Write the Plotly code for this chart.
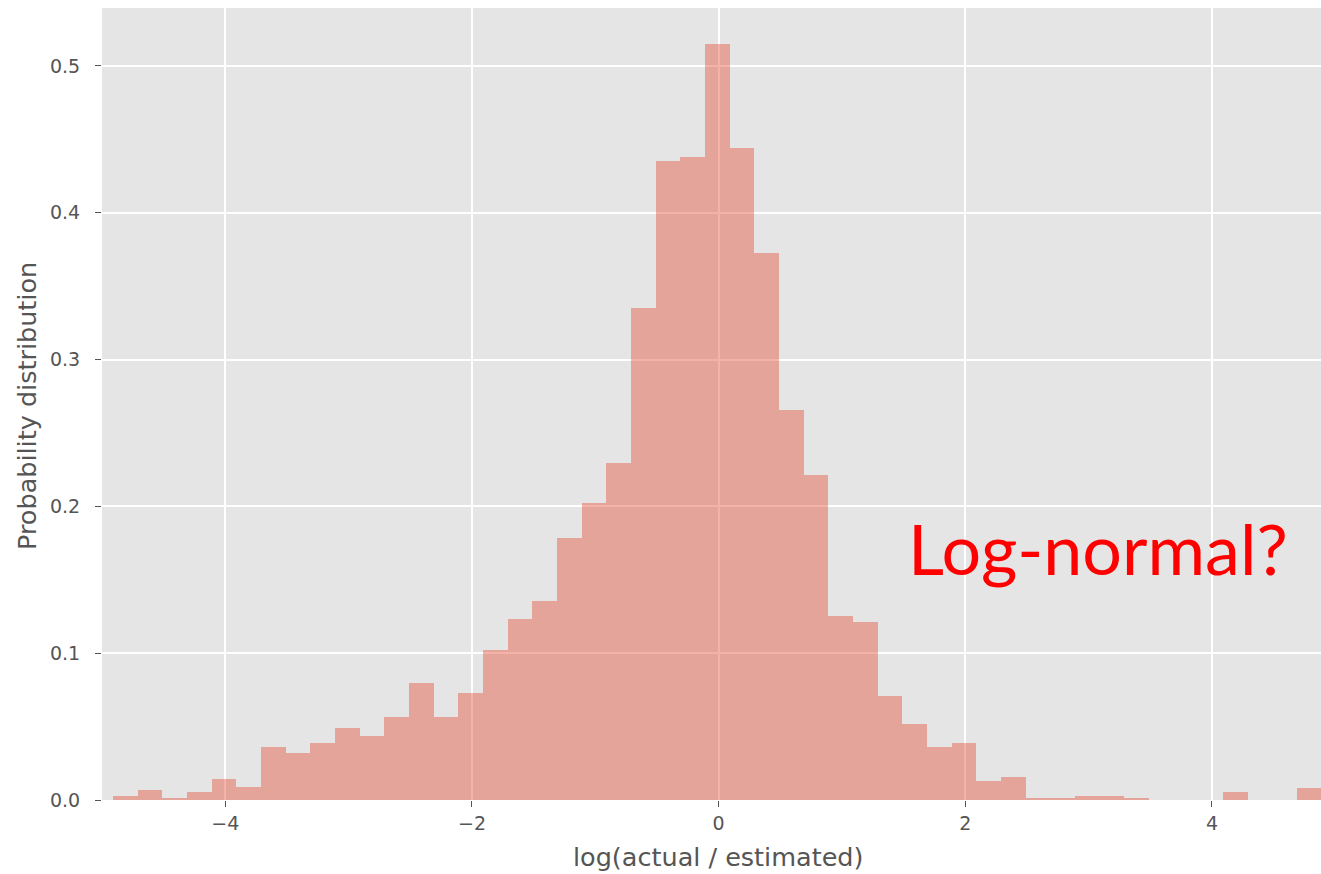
import numpy as np
import plotly.graph_objects as go

# Histogram of log(actual / estimated): bin layout and normalised heights
bin_start = -4.91
bin_width = 0.2
density = [
    0.0029, 0.0070, 0.0014, 0.0057, 0.0145, 0.0086, 0.0361, 0.0317, 0.0390, 0.0490,
    0.0433, 0.0565, 0.0797, 0.0565, 0.0726, 0.1020, 0.1236, 0.1353, 0.1787, 0.2020,
    0.2295, 0.3353, 0.4351, 0.4382, 0.5149, 0.4440, 0.3729, 0.2660, 0.2211, 0.1256,
    0.1211, 0.0711, 0.0520, 0.0363, 0.0388, 0.0127, 0.0154, 0.0011, 0.0011, 0.0027,
    0.0027, 0.0011, 0.0, 0.0, 0.0, 0.0054, 0.0, 0.0, 0.0082,
]
x_ticks = [-4, -2, 0, 2, 4]
y_ticks = [0.0, 0.1, 0.2, 0.3, 0.4, 0.5]
y_tick_labels = ["0.0", "0.1", "0.2", "0.3", "0.4", "0.5"]
x_title = "log(actual / estimated)"
y_title = "Probability distribution"
note = "Log-normal?"

centers = bin_start + bin_width * (np.arange(len(density)) + 0.5)

fig = go.Figure(
    go.Bar(
        x=centers,
        y=density,
        width=bin_width,
        marker=dict(color="rgba(226,74,51,0.42)", line=dict(width=0)),
        hoverinfo="skip",
    )
)

grey = "#555555"
tick_font = dict(family="DejaVu Sans", size=19, color=grey)
title_font = dict(family="DejaVu Sans", size=25.5, color=grey)

fig.update_layout(
    width=1321,
    height=874,
    margin=dict(l=102, r=0, t=8, b=74),
    paper_bgcolor="white",
    plot_bgcolor="#E5E5E5",
    bargap=0,
    showlegend=False,
    xaxis=dict(
        range=[-5, 4.884],
        tickmode="array",
        tickvals=x_ticks,
        ticktext=["\u2212" + str(-v) if v < 0 else str(v) for v in x_ticks],
        ticks="outside",
        ticklen=6,
        tickwidth=1,
        tickcolor=grey,
        tickfont=tick_font,
        showgrid=True,
        gridcolor="white",
        gridwidth=1.5,
        zeroline=False,
        showline=False,
    ),
    yaxis=dict(
        range=[0, 0.5395],
        tickmode="array",
        tickvals=y_ticks,
        ticktext=y_tick_labels,
        ticks="outside",
        ticklen=6,
        tickwidth=1,
        tickcolor=grey,
        tickfont=tick_font,
        ticklabelstandoff=11,
        showgrid=True,
        gridcolor="white",
        gridwidth=1.5,
        zeroline=False,
        showline=False,
    ),
    annotations=[
        dict(
            x=0, xref="x", y=-0.072, yref="paper",
            text=x_title, showarrow=False,
            xanchor="center", yanchor="middle",
            font=title_font,
        ),
        dict(
            x=0, xref="paper", y=0.5, yref="paper",
            xshift=-75, yshift=-2,
            text=y_title, showarrow=False, textangle=-90,
            xanchor="center", yanchor="middle",
            font=title_font,
        ),
        dict(
            x=1.52, xref="x", y=0.172, yref="y",
            text=note, showarrow=False,
            xanchor="left", yanchor="middle",
            font=dict(family="Lato", size=70, color="#FF0000"),
        ),
    ],
)

fig.write_html("out.html")
